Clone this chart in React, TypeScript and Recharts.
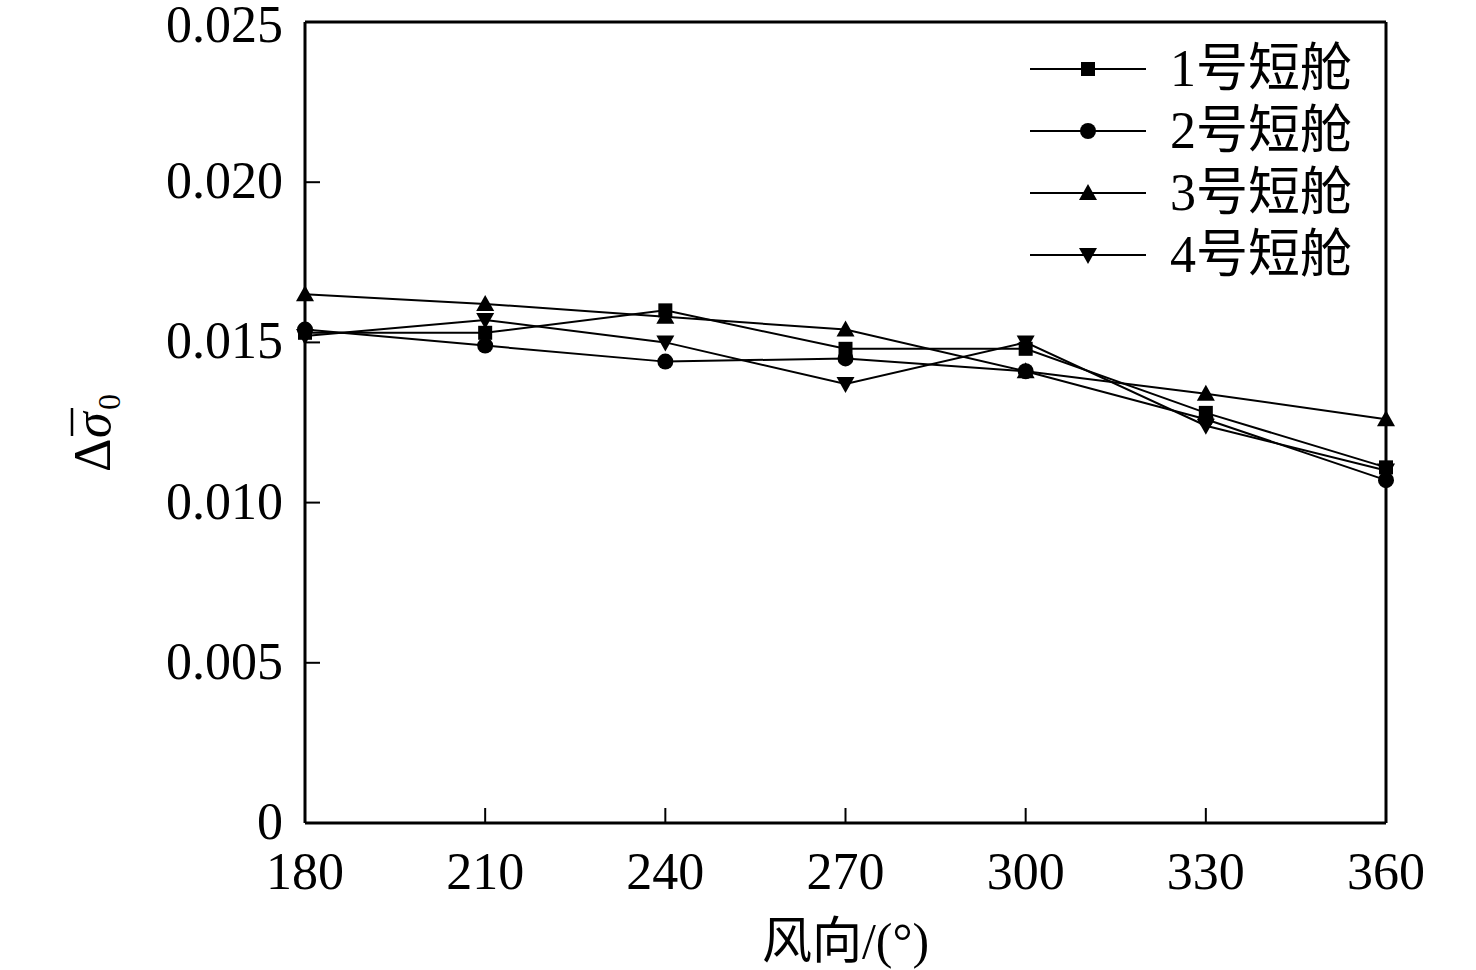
import React from 'react'
import {
  LineChart,
  Line,
  XAxis,
  YAxis,
  ReferenceLine,
} from 'recharts'

const windDirs = [180, 210, 240, 270, 300, 330, 360]
const nacelle1 = [0.0153, 0.0153, 0.0160, 0.0148, 0.0148, 0.0128, 0.0111]
const nacelle2 = [0.0154, 0.0149, 0.0144, 0.0145, 0.0141, 0.0126, 0.0107]
const nacelle3 = [0.0165, 0.0162, 0.0158, 0.0154, 0.0141, 0.0134, 0.0126]
const nacelle4 = [0.0152, 0.0157, 0.0150, 0.0137, 0.0150, 0.0124, 0.0110]

const xTicks = [180, 210, 240, 270, 300, 330, 360]
const yTicks = [0, 0.005, 0.01, 0.015, 0.02, 0.025]

const seriesNames = ['1号短舱', '2号短舱', '3号短舱', '4号短舱']
const seriesShapes = ['square', 'circle', 'triangle', 'down']

const FONT = '"Liberation Serif", "Times New Roman", "Noto Sans CJK SC", serif'
const INK = '#000'

const data = windDirs.map((d, i) => ({
  dir: d,
  s1: nacelle1[i],
  s2: nacelle2[i],
  s3: nacelle3[i],
  s4: nacelle4[i],
}))

/** Draws one marker glyph centered on cx, cy */
function Glyph({ shape, cx, cy }: { shape: string; cx: number; cy: number }) {
  if (shape === 'square') return <rect x={cx - 7} y={cy - 7} width={14} height={14} fill={INK} />
  if (shape === 'circle') return <circle cx={cx} cy={cy} r={8} fill={INK} />
  if (shape === 'triangle')
    return <polygon points={`${cx},${cy - 9} ${cx + 9},${cy + 7} ${cx - 9},${cy + 7}`} fill={INK} />
  return <polygon points={`${cx - 9},${cy - 7} ${cx + 9},${cy - 7} ${cx},${cy + 9}`} fill={INK} />
}

const dotFor = (shape: string) => (props: any) => {
  const { cx, cy, index } = props
  if (cx == null || cy == null) return <g key={index} />
  return <Glyph key={index} shape={shape} cx={cx} cy={cy} />
}

const YTick = (props: any) => {
  const { x, y, payload } = props
  const label = payload.value === 0 ? '0' : payload.value.toFixed(3)
  return (
    <g>
      {payload.value !== 0 && payload.value !== 0.025 && (
        <line x1={x} y1={y} x2={x + 15} y2={y} stroke={INK} strokeWidth={2} />
      )}
      <text x={x - 22} y={y} dy={payload.value === 0.025 ? 20 : 16} textAnchor="end" fontSize={52} fontFamily={FONT} fill={INK}>
        {label}
      </text>
    </g>
  )
}

const XTick = (props: any) => {
  const { x, y, payload } = props
  return (
    <g>
      {payload.value !== 180 && payload.value !== 360 && (
        <line x1={x} y1={y} x2={x} y2={y - 15} stroke={INK} strokeWidth={2} />
      )}
      <text x={x} y={y} dy={66} textAnchor="middle" fontSize={52} fontFamily={FONT} fill={INK}>
        {payload.value}
      </text>
    </g>
  )
}

// rotated Δσ̄₀ label
const YLabel = () => {
  const cx = 94
  const cy = 428
  return (
    <g transform={`translate(${cx},${cy}) rotate(-90)`}>
      <text x={-44} y={16} fontSize={52} fontFamily={FONT} fill={INK}>Δ</text>
      <text x={-10} y={16} fontSize={52} fontFamily={FONT} fontStyle="italic" fill={INK}>σ</text>
      <line x1={-8} y1={-22} x2={20} y2={-22} stroke={INK} strokeWidth={2.5} />
      <text x={18} y={26} fontSize={32} fontFamily={FONT} fill={INK}>0</text>
    </g>
  )
}

const LegendBox = () => (
  <div style={{ fontFamily: FONT, position: 'absolute', left: 1030, top: 38 }}>
    {seriesNames.map((name, i) => (
      <div key={name} style={{ display: 'flex', alignItems: 'center', height: 62 }}>
        <svg width={118} height={30}>
          <line x1={0} y1={15} x2={116} y2={15} stroke={INK} strokeWidth={2} />
          <Glyph shape={seriesShapes[i]} cx={58} cy={15} />
        </svg>
        <span style={{ fontSize: 52, lineHeight: '52px', marginLeft: 22, color: INK }}>{name}</span>
      </div>
    ))}
  </div>
)

export default function App() {
  return (
    <div style={{ position: 'absolute', left: 0, top: 0, width: 1476, height: 970, background: '#fff' }}>
      <LineChart
        width={1476}
        height={970}
        data={data}
        margin={{ top: 22, right: 90, left: 0, bottom: 0 }}
      >
        <XAxis
          dataKey="dir"
          type="number"
          domain={[180, 360]}
          ticks={xTicks}
          interval={0}
          height={147}
          tickSize={0}
          tickMargin={0}
          tickLine={false}
          axisLine={{ stroke: INK, strokeWidth: 3 }}
          tick={<XTick />}
          label={{
            value: '风向/(°)',
            position: 'insideBottom',
            offset: 12,
            fontSize: 50,
            fontFamily: FONT,
            fill: INK,
          }}
        />
        <YAxis
          type="number"
          domain={[0, 0.025]}
          ticks={yTicks}
          interval={0}
          width={305}
          tickSize={0}
          tickMargin={0}
          tickLine={false}
          axisLine={{ stroke: INK, strokeWidth: 3 }}
          tick={<YTick />}
          label={<YLabel />}
        />
        <ReferenceLine x={360} stroke={INK} strokeWidth={3} />
        <ReferenceLine y={0.025} stroke={INK} strokeWidth={3} />
        <Line dataKey="s1" stroke={INK} strokeWidth={2} dot={dotFor('square')} isAnimationActive={false} />
        <Line dataKey="s2" stroke={INK} strokeWidth={2} dot={dotFor('circle')} isAnimationActive={false} />
        <Line dataKey="s3" stroke={INK} strokeWidth={2} dot={dotFor('triangle')} isAnimationActive={false} />
        <Line dataKey="s4" stroke={INK} strokeWidth={2} dot={dotFor('down')} isAnimationActive={false} />
      </LineChart>
      <LegendBox />
    </div>
  )
}
